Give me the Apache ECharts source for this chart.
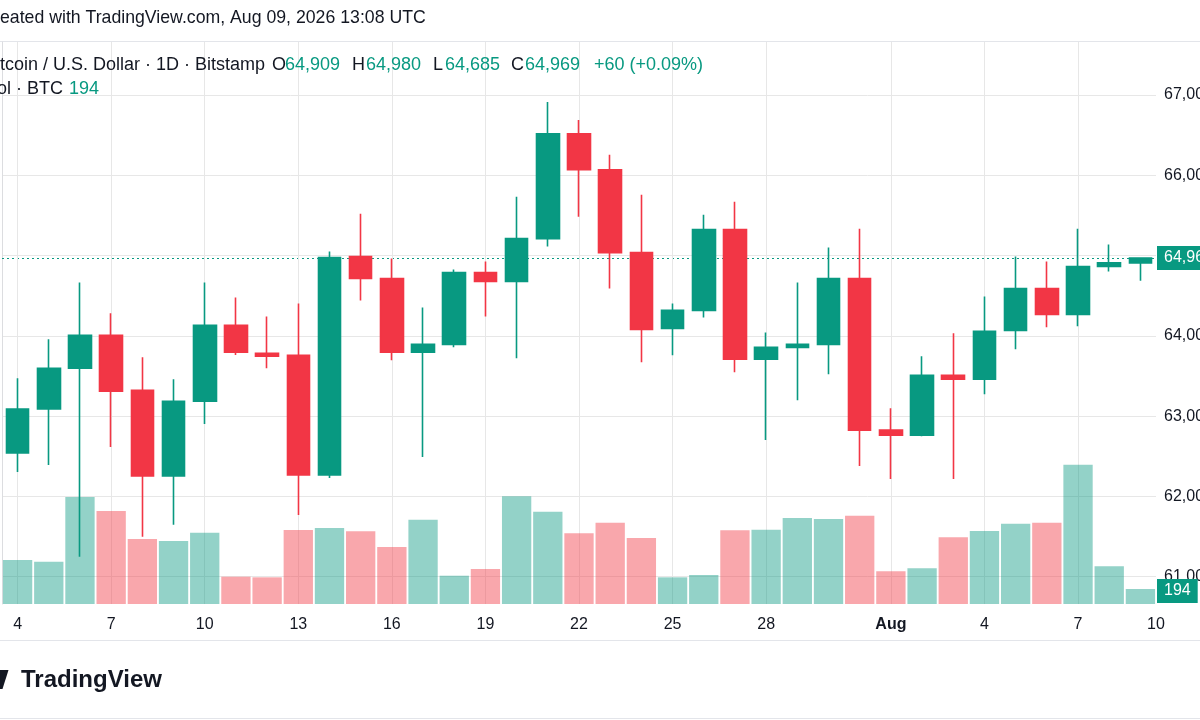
<!DOCTYPE html>
<html><head><meta charset="utf-8">
<script src="https://cdn.jsdelivr.net/npm/echarts@6/dist/echarts.min.js"></script>
<style>html,body{margin:0;padding:0;background:#fff;overflow:hidden}#c{width:1200px;height:720px}</style>
</head><body><div id="c"></div>
<script>
// ---------- data ----------
const dates = ['Jul 4','Jul 5','Jul 6','Jul 7','Jul 8','Jul 9','Jul 10','Jul 11','Jul 12','Jul 13','Jul 14','Jul 15','Jul 16','Jul 17','Jul 18','Jul 19','Jul 20','Jul 21','Jul 22','Jul 23','Jul 24','Jul 25','Jul 26','Jul 27','Jul 28','Jul 29','Jul 30','Jul 31','Aug 1','Aug 2','Aug 3','Aug 4','Aug 5','Aug 6','Aug 7','Aug 8','Aug 9'];
const opens  = [62540,63090,63596,64006,63323,62255,63186,64130,63783,63758,62267,64988,64714,63795,63894,64789,64677,65211,66516,66068,65037,64093,64317,65323,63708,63857,63894,64714,62826,62764,63509,63460,64068,64590,64267,64863,64909];
const closes = [63087,63596,64006,63311,62255,63186,64130,63795,63745,62267,64975,64714,63795,63894,64789,64677,65211,66516,66068,65037,64081,64317,65323,63708,63857,63894,64714,62826,62764,63509,63460,64056,64590,64267,64863,64909,64969];
const lows   = [62304,62391,61248,62615,61497,61646,62901,63760,63596,61770,62230,64441,63696,62491,63857,64242,63720,65112,65484,64590,63671,63758,64230,63547,62702,63199,63522,62379,62217,62750,62217,63273,63832,64106,64118,64801,64685];
const highs  = [63472,63957,64665,64280,63733,63460,64665,64478,64242,64404,65050,65522,64963,64354,64826,64925,65733,66913,66689,66255,65758,64404,65509,65671,64043,64665,65099,65335,63099,63745,64031,64491,64988,64925,65335,65137,64980];
const volumes = [569,547,1384,1203,841,815,922,353,345,957,983,940,737,1090,366,453,1393,1193,914,1051,853,345,375,953,961,1112,1099,1142,423,462,862,944,1038,1051,1801,487,194];
const xTickIndex  = [0,3,6,9,12,15,18,21,24,28,31,34];
const xTickLabels = ['4','7','10','13','16','19','22','25','28','Aug','4','7'];
const xEdgeLabel = '10';
const priceMin = 60660, priceMax = 67660;
const volumeMax = 7268;
const createdText = 'Created with TradingView.com, Aug 09, 2026 13:08 UTC';
const symbolText = 'Bitcoin / U.S. Dollar \u00b7 1D \u00b7 Bitstamp';
const volumeText = 'Vol \u00b7 BTC';

// ---------- styling ----------
const UP = '#089981', DOWN = '#f23645', INK = '#131722';
const FONT = '"Liberation Sans", Arial, sans-serif';
const fmt = v => Math.round(v).toLocaleString('en-US');
const last = dates.length - 1;
const candleData = dates.map((d, i) => [opens[i], closes[i], lows[i], highs[i]]);
const volData = volumes.map((v, i) => ({
  value: v,
  itemStyle: { color: closes[i] >= opens[i] ? 'rgba(8,153,129,0.44)' : 'rgba(242,60,70,0.45)' }
}));
const chg = closes[last] - opens[last];
const chgPct = chg / opens[last] * 100;

const ctx = document.createElement('canvas').getContext('2d');
function w(text, font) { ctx.font = font; return ctx.measureText(text).width; }
const f1 = '17.7px ' + FONT, f2 = '18px ' + FONT;

const T = (text, x, y, fill, font, extra) => ({
  type: 'text', silent: true, z: 10,
  style: Object.assign({ text, x, y, fill, font, verticalAlign: 'middle', align: 'left' }, extra || {})
});
const L = (y) => ({ type: 'line', silent: true, shape: { x1: 0, y1: y, x2: 1200, y2: y }, style: { stroke: '#e3e5ea', lineWidth: 1 } });

const graphics = [
  L(41.5), L(640.5), L(718.5),
  T(createdText, -w('Cr', f1), 18, INK, f1),
  T(symbolText, -w('Bi', f2), 65, INK, f2),
  T('O', 272, 65, INK, f2), T(fmt(opens[last]), 285, 65, UP, f2),
  T('H', 352, 65, INK, f2), T(fmt(highs[last]), 366, 65, UP, f2),
  T('L', 433, 65, INK, f2), T(fmt(lows[last]), 445, 65, UP, f2),
  T('C', 511, 65, INK, f2), T(fmt(closes[last]), 525, 65, UP, f2),
  T((chg >= 0 ? '+' : '') + chg + ' (' + (chg >= 0 ? '+' : '') + chgPct.toFixed(2) + '%)', 594, 65, UP, f2),
  T(volumeText, -w('V', f2) - 2, 89, INK, f2),
  T(String(volumes[last]), 69, 89, UP, f2),
  { type: 'polygon', silent: true, shape: { points: [[0, 670], [8.5, 670], [2.5, 689], [0, 689]] }, style: { fill: INK } },
  T('TradingView', 21, 680, INK, 'bold 24px ' + FONT)
];

const endLabel = (text, dy) => ({
  show: true, position: 'end', distance: 1, formatter: text, offset: [0, dy || 0],
  color: '#fff', backgroundColor: UP, fontSize: 16, lineHeight: 16, fontFamily: FONT,
  padding: [4, 7, 4, 7], borderRadius: 0, opacity: 1
});

const chart = echarts.init(document.getElementById('c'), null, { renderer: 'canvas' });
chart.setOption({
  animation: false,
  backgroundColor: '#fff',
  textStyle: { fontFamily: FONT },
  markLine: { z: 1 },
  grid: { left: 2, right: 44, top: 42, bottom: 116, containLabel: false, outerBoundsMode: 'none' },
  xAxis: [{
    type: 'category', data: dates, boundaryGap: true,
    axisLine: { show: false }, axisTick: { show: false }, splitLine: { show: false },
    axisLabel: {
      interval: (i) => xTickIndex.indexOf(i) >= 0,
      formatter: (v, i) => { const k = xTickIndex.indexOf(i); if (k < 0) return ''; const t = xTickLabels[k]; return /\d/.test(t) ? t : '{b|' + t + '}'; },
      color: INK, fontSize: 16, margin: 13,
      rich: { b: { fontWeight: 'bold', fontSize: 16, color: INK } }
    }
  }, {
    type: 'value', min: 0, max: 1, interval: 1, position: 'bottom',
    axisLine: { show: false }, axisTick: { show: false }, splitLine: { show: false },
    axisLabel: { showMinLabel: false, showMaxLabel: true, alignMaxLabel: 'center', formatter: v => v === 1 ? xEdgeLabel : '', color: INK, fontSize: 16, margin: 13 }
  }],
  yAxis: [{
    type: 'value', position: 'right', min: priceMin, max: priceMax, splitNumber: 7,
    axisLine: { show: true, lineStyle: { color: '#dcdde0' } }, axisTick: { show: false },
    splitLine: { show: true, showMinLine: false, showMaxLine: false, lineStyle: { color: '#e7e7e7' } },
    axisLabel: { showMinLabel: false, showMaxLabel: false, formatter: fmt, color: INK, fontSize: 16, margin: 8 }
  }, {
    type: 'value', min: 0, max: volumeMax, show: false, splitLine: { show: false }
  }],
  series: [{
    type: 'bar', name: 'Volume', xAxisIndex: 0, yAxisIndex: 1, data: volData, barWidth: '94%',
    markLine: { z: 1, silent: true, symbol: 'none', lineStyle: { color: 'rgba(0,0,0,0)', width: 0 }, data: [{ yAxis: volumes[last], label: endLabel(String(volumes[last]), 2) }] }
  }, {
    type: 'candlestick', name: 'BTCUSD', xAxisIndex: 0, yAxisIndex: 0, data: candleData, barWidth: '74%',
    itemStyle: { color: UP, color0: DOWN, borderColor: UP, borderColor0: DOWN, borderWidth: 1.6 },
    markLine: {
      z: 1, silent: true, symbol: 'none', animation: false,
      data: [{ yAxis: closes[last], lineStyle: { color: UP, type: [2, 3], width: 1.2 }, label: endLabel(fmt(closes[last])) }]
        .concat(xTickIndex.map(i => ({ xAxis: dates[i], lineStyle: { color: '#e7e7e7', type: 'solid', width: 1 }, label: { show: false } })))
    }
  }],
  graphic: graphics
});
</script></body></html>
